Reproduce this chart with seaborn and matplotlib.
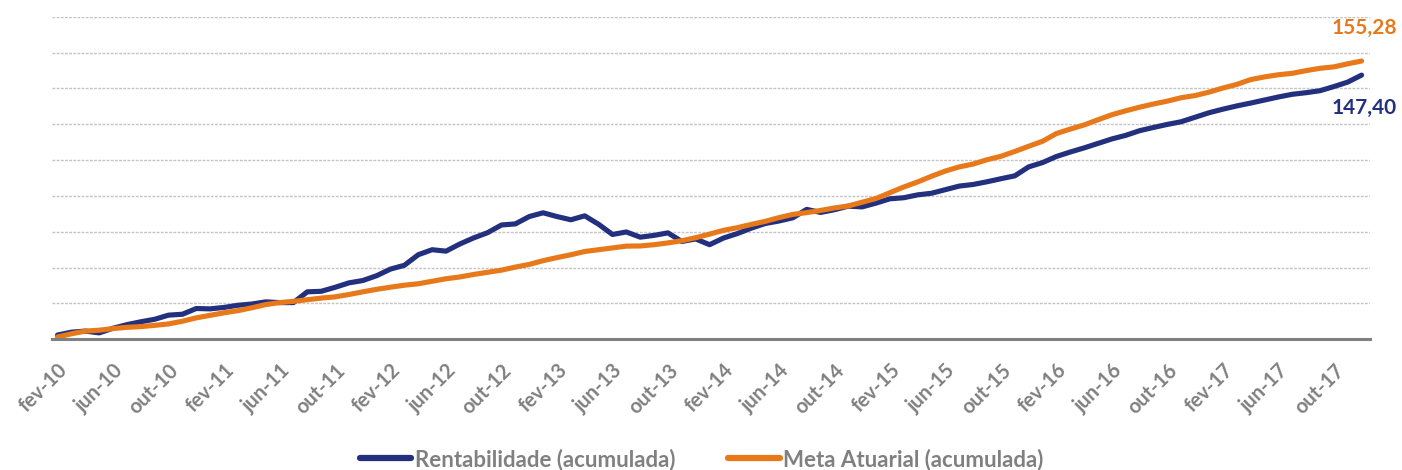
import numpy as np
import pandas as pd
import matplotlib
matplotlib.use("Agg")
import matplotlib.pyplot as plt
import seaborn as sns

# monthly cumulative values, fev-10 .. dez-17
MESES = ["jan", "fev", "mar", "abr", "mai", "jun", "jul", "ago", "set", "out", "nov", "dez"]
meses = [f"{MESES[m]}-{a % 100:02d}" for a in range(2010, 2018) for m in range(12)][1:]

rentabilidade = [
    2.4, 4.0, 4.6, 3.6, 6.2, 8.2, 9.8, 11.2, 13.5, 14.0,
    17.2, 17.0, 17.8, 19.0, 19.7, 20.9, 20.5, 20.5, 26.5, 26.8,
    29.0, 31.5, 32.8, 35.5, 39.2, 41.3, 47.2, 50.0, 49.2, 53.2,
    56.6, 59.5, 63.8, 64.4, 68.5, 70.6, 68.5, 66.7, 68.9, 64.2,
    58.5, 59.9, 57.0, 58.0, 59.4, 54.6, 56.0, 52.8, 56.5, 59.0,
    62.0, 64.6, 66.0, 67.8, 72.5, 70.8, 72.3, 74.3, 73.9, 76.0,
    78.4, 79.0, 80.6, 81.5, 83.5, 85.5, 86.4, 87.9, 89.6, 91.2,
    96.2, 98.6, 102.0, 104.5, 106.8, 109.3, 111.8, 113.8, 116.4, 118.2,
    119.9, 121.4, 123.9, 126.4, 128.4, 130.2, 131.8, 133.5, 135.2, 136.7,
    137.6, 138.7, 141.0, 143.5, 147.40,
]
meta_atuarial = [
    1.3, 3.1, 4.6, 5.1, 6.0, 6.7, 7.1, 7.8, 8.6, 10.1,
    12.0, 13.4, 14.8, 16.0, 17.6, 19.4, 20.5, 21.2, 22.1, 23.0,
    23.7, 25.0, 26.5, 27.9, 29.1, 30.2, 31.0, 32.4, 33.8, 34.8,
    36.2, 37.4, 38.6, 40.3, 41.8, 43.9, 45.6, 47.2, 49.0, 50.0,
    51.0, 52.0, 52.1, 52.8, 53.8, 55.0, 56.7, 58.7, 60.8, 62.3,
    64.1, 65.8, 67.9, 69.7, 70.7, 71.9, 73.3, 74.4, 76.5, 78.6,
    81.8, 85.0, 87.8, 91.0, 93.9, 96.2, 97.8, 100.2, 102.1, 104.8,
    107.7, 110.5, 114.8, 117.3, 119.6, 122.5, 125.3, 127.5, 129.5, 131.3,
    132.9, 134.8, 136.0, 137.9, 140.2, 142.2, 144.9, 146.4, 147.6, 148.4,
    149.9, 151.2, 152.0, 153.7, 155.28,
]

series = ["Rentabilidade (acumulada)", "Meta Atuarial (acumulada)"]
cores = ["#22307E", "#E8791A"]

n = len(meses)
df = pd.DataFrame({
    "idx": list(range(n)) * 2,
    "valor": rentabilidade + meta_atuarial,
    "serie": [series[0]] * n + [series[1]] * n,
})

sns.set_style("white")
plt.rcParams["font.family"] = ["Lato", "DejaVu Sans"]

fig = plt.figure(figsize=(14.02, 4.70), dpi=100)
ax = fig.add_axes([0.0371, 0.278, 0.940, 0.6865])

sns.lineplot(data=df, x="idx", y="valor", hue="serie", hue_order=series,
             palette=cores, linewidth=3.7, ax=ax, legend=True,
             solid_capstyle="round")

ax.set_xlim(-0.4, n - 0.4)
ax.set_ylim(0, 180)
ax.set_yticks(np.arange(20, 181, 20))
ax.set_yticklabels([])
ax.tick_params(axis="y", length=0)
ax.yaxis.grid(True, color="#c4c4c4", linestyle=(0, (2, 1)), linewidth=1)
ax.set_axisbelow(True)

for s in ["top", "right", "left"]:
    ax.spines[s].set_visible(False)
ax.spines["bottom"].set_color("#808080")
ax.spines["bottom"].set_linewidth(2.2)

ticks = list(range(0, n, 4))
ax.set_xticks(ticks)
ax.set_xticklabels([meses[i] for i in ticks], rotation=45, ha="right",
                   rotation_mode="anchor", color="#808080",
                   fontsize=14.5, fontweight="bold")
ax.tick_params(axis="x", length=0, pad=15)
ax.set_xlabel("")
ax.set_ylabel("")

# final values
ax.annotate(f"{meta_atuarial[-1]:.2f}".replace(".", ","), xy=(n - 1, meta_atuarial[-1]),
            xytext=(2, 24), textcoords="offset points", ha="center", va="center",
            color=cores[1], fontsize=15, fontweight="bold", annotation_clip=False)
ax.annotate(f"{rentabilidade[-1]:.2f}".replace(".", ","), xy=(n - 1, rentabilidade[-1]),
            xytext=(2, -24), textcoords="offset points", ha="center", va="center",
            color=cores[0], fontsize=15, fontweight="bold", annotation_clip=False)

leg = ax.legend(loc="center", bbox_to_anchor=(0.493, -0.372), ncol=2, frameon=False,
                fontsize=16, handlelength=2.3, handletextpad=0.15, columnspacing=2.4,
                borderpad=0)
for t in leg.get_texts():
    t.set_color("#808080")
    t.set_fontweight("bold")
for h in leg.legend_handles:
    h.set_linewidth(4.5)

fig.savefig("out.png", dpi=100)
